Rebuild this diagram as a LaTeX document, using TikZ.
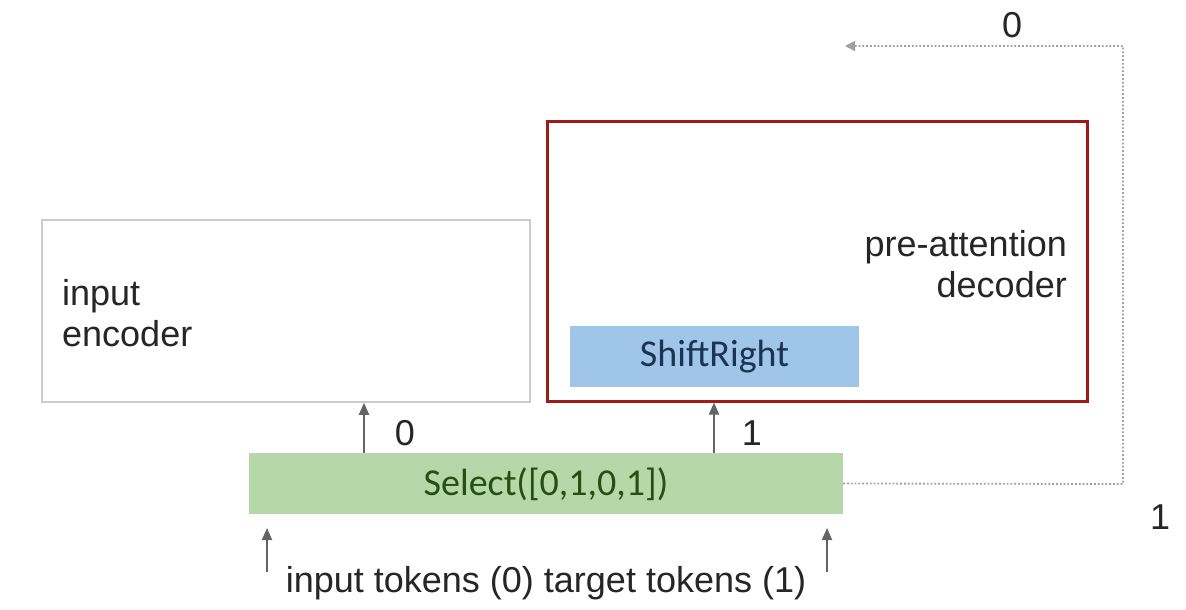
\documentclass[tikz,border=0pt]{standalone}
\usepackage{fontspec}
\setmainfont{Liberation Sans}
\newfontfamily\calib{Carlito}
\usetikzlibrary{arrows.meta}
\definecolor{encgray}{RGB}{204,204,204}
\definecolor{decred}{RGB}{160,26,26}
\definecolor{shiftblue}{RGB}{159,197,232}
\definecolor{shifttext}{RGB}{28,52,84}
\definecolor{selgreen}{RGB}{182,215,168}
\definecolor{seltext}{RGB}{39,78,19}
\definecolor{arrgray}{RGB}{100,100,100}
\definecolor{dotgray}{RGB}{160,160,160}
\begin{document}
\begin{tikzpicture}[x=1pt,y=-1pt,
  lbl/.style={font=\fontsize{36}{41}\selectfont, inner sep=0pt, text=black!85},
  boxtext/.style={font=\calib\fontsize{38}{44}\selectfont, inner sep=0pt},
  arr/.style={draw=arrgray, line width=1.8pt, -{Triangle[width=10pt,length=12pt]}},
  dotline/.style={draw=dotgray, line width=1.8pt, dotted, -{Triangle[width=10pt,length=10pt]}}
]
\useasboundingbox (0,0) rectangle (1186,610);
\fill[white] (0,0) rectangle (1186,610);
% boxes
\node[draw=encgray, line width=1.5pt, minimum width=488pt, minimum height=182pt, inner sep=0pt] (enc) at (286,311) {};
\node[draw=decred, line width=3pt, minimum width=540pt, minimum height=280pt, inner sep=0pt] (dec) at (817,261) {};
\node[fill=shiftblue, minimum width=289pt, minimum height=61pt, inner sep=0pt] (shift) at (714.5,356.5) {};
\node[boxtext, text=shifttext] (shiftl) at (714.5,357) {ShiftRight};
\node[fill=selgreen, minimum width=594pt, minimum height=61pt, inner sep=0pt] (sel) at (546,483.5) {};
\node[boxtext, text=seltext] (sell) at (546,484) {Select([0,1,0,1])};
% texts
\node[lbl, align=left, anchor=west] (enct) at (62,313) {input\\encoder};
\node[lbl, align=right, anchor=east] (dect) at (1067,264) {pre-attention\\decoder};
\node[lbl] (tok) at (546,583) {input tokens (0) target tokens (1)};
\node[lbl] (l0a) at (405,433) {0};
\node[lbl] (l1a) at (752,433) {1};
\node[lbl] (l0b) at (1012,25) {0};
\node[lbl] (l1b) at (1160,517) {1};
% arrows
\coordinate (a0) at (364,453);
\coordinate (a1) at (714,453);
\draw[arr] (a0) -- (a0 |- enc.south);
\draw[arr] (a1) -- (a1 |- dec.south);
\coordinate (b0) at (267,572);
\coordinate (b1) at (827,572);
\draw[arr] (b0) -- (267,528);
\draw[arr] (b1) -- (827,528);
% dotted feedback
\coordinate (c1) at (1123,484);
\coordinate (c2) at (1123,46);
\coordinate (c3) at (845,46);
\draw[dotline] (sel.east) -- (c1) -- (c2) -- (c3);
\end{tikzpicture}
\end{document}
